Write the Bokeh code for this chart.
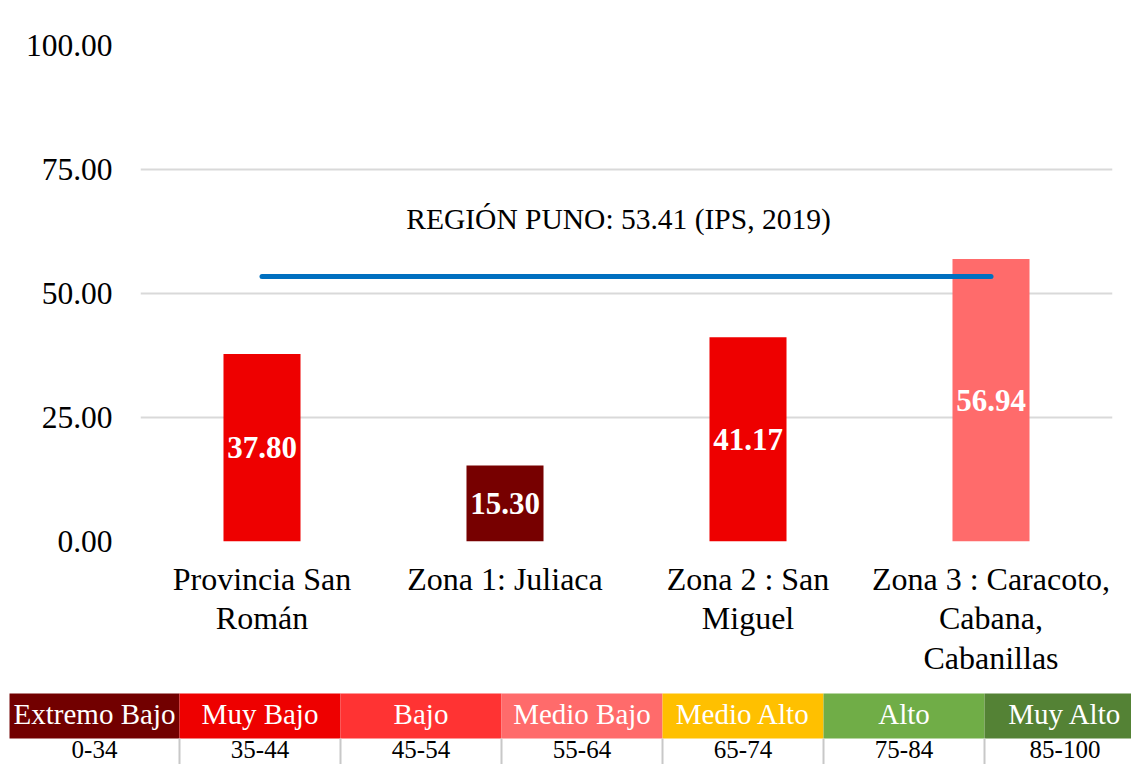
from bokeh.plotting import figure
from bokeh.models import FactorRange, Range1d, FixedTicker, PrintfTickFormatter, Label
from bokeh.layouts import column
from bokeh.core.properties import value
from bokeh.embed import file_html
from bokeh.resources import INLINE

# ---------------- data ----------------
categories = ["Provincia San\nRomán", "Zona 1: Juliaca", "Zona 2 : San\nMiguel",
              "Zona 3 : Caracoto,\nCabana,\nCabanillas"]
values = [37.80, 15.30, 41.17, 56.94]
bar_colors = ["#EE0000", "#770000", "#EE0000", "#FF6B6B"]
region_value = 53.41
region_label = "REGIÓN PUNO: 53.41 (IPS, 2019)"
y_ticks = [0, 25, 50, 75, 100]

levels = ["Extremo Bajo", "Muy Bajo", "Bajo", "Medio Bajo", "Medio Alto", "Alto", "Muy Alto"]
level_ranges = ["0-34", "35-44", "45-54", "55-64", "65-74", "75-84", "85-100"]
level_colors = ["#720000", "#EE0000", "#FF3333", "#FF6B6B", "#FFC000", "#70AD47", "#548235"]

FONT = "Liberation Serif"

# ---------------- chart ----------------
p = figure(x_range=FactorRange(*categories), y_range=Range1d(0, 100),
           width=1131, height=690, output_backend="svg", toolbar_location=None,
           min_border_left=140, min_border_right=19, min_border_top=45, min_border_bottom=149)
p.frame_align = False
p.outline_line_color = None
p.xgrid.grid_line_color = None
p.ygrid.grid_line_color = "#D9D9D9"
p.ygrid.grid_line_width = 2

p.yaxis.ticker = FixedTicker(ticks=y_ticks)
p.yaxis.formatter = PrintfTickFormatter(format="%.2f")
for ax in (p.xaxis, p.yaxis):
    ax.axis_line_color = None
    ax.major_tick_line_color = None
    ax.minor_tick_line_color = None
    ax.major_tick_in = 0
    ax.major_tick_out = 0
    ax.major_label_text_font = FONT
    ax.major_label_text_color = "#000000"
p.yaxis.major_label_text_font_size = "31.5px"
p.xaxis.major_label_text_font_size = "32px"
p.xaxis.major_label_text_line_height = 1.1
p.yaxis.major_label_standoff = 28
p.xaxis.major_label_standoff = 19

p.vbar(x=categories, top=values, width=0.317, fill_color=bar_colors, line_color=None)

p.text(x=categories, y=[v / 2 for v in values], text=[f"{v:.2f}" for v in values],
       text_color="white", text_font=value(FONT), text_font_style="bold",
       text_font_size="31px", text_align="center", text_baseline="middle")

p.line(x=[categories[0], categories[-1]], y=[region_value, region_value],
       line_width=5, line_color="#0070C0", line_cap="round")

p.add_layout(Label(x=2.0, y=65.1, x_offset=-8, text=region_label, text_align="center",
                   text_baseline="middle", text_font=FONT, text_font_size="29.5px",
                   text_color="#000000"))

# ---------------- legend table ----------------
n = len(levels)
x_start, x_end = -0.1118, 6.913
y_start, y_end = 0.4222, 2.0667
t = figure(x_range=Range1d(x_start, x_end), y_range=Range1d(y_start, y_end),
           width=1131, height=74, output_backend="svg", toolbar_location=None,
           min_border=0, x_axis_location=None, y_axis_location=None)
t.frame_align = False
t.grid.visible = False
t.outline_line_color = None

lefts = [float(i) for i in range(n)]
lefts[0] = x_start + 0.056
rights = [float(i + 1) for i in range(n)]
t.quad(left=lefts, right=rights, bottom=[1] * n, top=[2] * n,
       fill_color=level_colors, line_color=None)
centers = [i + 0.5 for i in range(n)]
centers[0] = (lefts[0] + rights[0]) / 2
t.text(x=centers, y=[1.55] * n, text=levels, text_color="white", text_font=value(FONT),
       text_font_size="29px", text_align="center", text_baseline="middle")
t.segment(x0=list(range(1, n)), y0=[y_start] * (n - 1), x1=list(range(1, n)), y1=[1] * (n - 1),
          line_color="#C8C8C8", line_width=2)
t.text(x=centers, y=[0.745] * n, text=level_ranges, text_color="#000000",
       text_font=value(FONT), text_font_size="25px", text_align="center",
       text_baseline="middle")

layout = column(p, t)
open("out.html", "w").write(file_html(layout, INLINE))
